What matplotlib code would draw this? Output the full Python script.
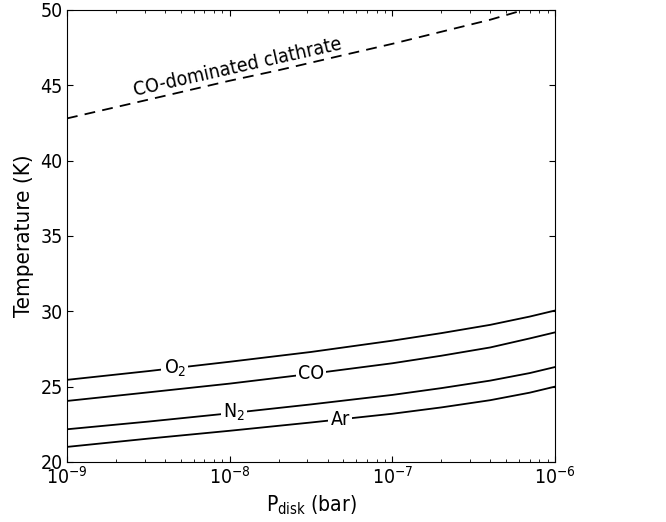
import matplotlib
matplotlib.use('Agg')
import matplotlib.pyplot as plt
import numpy as np

plt.rcParams['font.family'] = ['DejaVu Sans']
plt.rcParams['font.stretch'] = 'condensed'
plt.rcParams['mathtext.fontset'] = 'custom'
plt.rcParams['mathtext.rm'] = 'DejaVu Sans:stretch=condensed'

# Disk pressure (bar) where the curves were read
p_disk = [1e-9, 3.16e-9, 1e-8, 3.16e-8, 1e-7, 2e-7, 4e-7, 7e-7, 1e-6]

# Equilibrium temperatures (K)
t_o2 = [25.45, 26.03, 26.65, 27.3, 28.05, 28.55, 29.1, 29.65, 30.05]
t_co = [24.05, 24.62, 25.2, 25.85, 26.55, 27.05, 27.6, 28.2, 28.6]
t_n2 = [22.17, 22.68, 23.23, 23.82, 24.45, 24.9, 25.4, 25.9, 26.3]
t_ar = [21.0, 21.55, 22.07, 22.62, 23.2, 23.62, 24.1, 24.6, 25.0]

# CO-dominated clathrate curve
p_clath = [1e-9, 2e-9, 4e-9, 1e-8, 2e-8, 5e-8, 1e-7, 2e-7, 4e-7, 1e-6]
t_clath = [42.8, 43.55, 44.3, 45.3, 46.0, 47.0, 47.75, 48.55, 49.35, 50.6]

labels = ['O$_2$', 'CO', 'N$_2$', 'Ar']
label_p = [4.6e-9, 3.15e-8, 1.06e-8, 4.77e-8]

fig = plt.figure(figsize=(6.66, 5.22), dpi=100)
ax = fig.add_axes([0.1006, 0.115, 0.7327, 0.866])

curves = [t_o2, t_co, t_n2, t_ar]
for t, lab, lp in zip(curves, labels, label_p):
    ax.plot(p_disk, t, color='black', lw=1.3)
    ly = np.interp(np.log10(lp), np.log10(p_disk), t)
    ax.text(lp, ly, lab, ha='center', va='center', fontsize=14,
            bbox=dict(facecolor='white', edgecolor='none', pad=1.5))

ax.plot(p_clath, t_clath, color='black', lw=1.3, ls='--', dashes=(6, 4))
ax.text(1.12e-8, 46.2, 'CO-dominated clathrate', ha='center', va='center',
        fontsize=14, rotation=12.7)

ax.set_xscale('log')
ax.set_xlim(1e-9, 1e-6)
ax.set_ylim(20, 50)
ax.set_yticks([20, 25, 30, 35, 40, 45, 50])
ax.tick_params(which='both', direction='in', top=True, right=True, labelsize=14)
ax.tick_params(which='major', length=4, pad=3)
ax.tick_params(which='minor', length=2)
ax.set_xlabel('P$_{\\rm disk}$ (bar)', fontsize=15, labelpad=4)
ax.set_ylabel('Temperature (K)', fontsize=16, labelpad=5)

fig.savefig('out.png', dpi=100)
